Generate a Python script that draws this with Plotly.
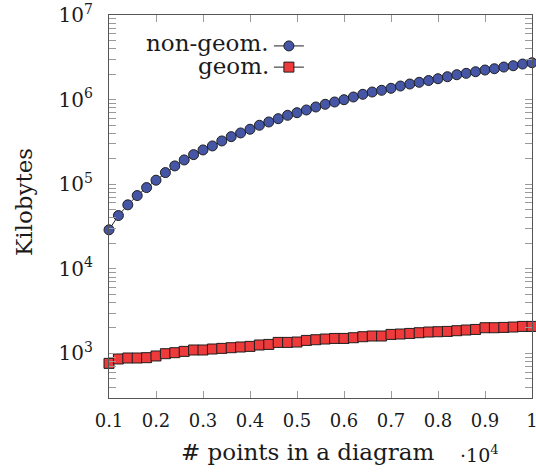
import plotly.graph_objects as go
import math

# x in units of 10^4 points
x_vals = [0.10, 0.12, 0.14, 0.16, 0.18, 0.20, 0.22, 0.24, 0.26, 0.28,
          0.30, 0.32, 0.34, 0.36, 0.38, 0.40, 0.42, 0.44, 0.46, 0.48,
          0.50, 0.52, 0.54, 0.56, 0.58, 0.60, 0.62, 0.64, 0.66, 0.68,
          0.70, 0.72, 0.74, 0.76, 0.78, 0.80, 0.82, 0.84, 0.86, 0.88,
          0.90, 0.92, 0.94, 0.96, 0.98, 1.00]

non_geom_kb = [28900, 42600, 57000, 73400, 91200, 111500, 137100, 164500, 193600, 223600,
               254100, 283300, 324500, 364800, 403400, 446100, 497300, 543900, 595100, 652500,
               700300, 753900, 817700, 879900, 937000, 997300, 1073000, 1155000, 1229000, 1288000,
               1360000, 1447000, 1528000, 1601000, 1681000, 1765000, 1864000, 1968000, 2044000, 2135000,
               2236000, 2316000, 2426000, 2513000, 2633000, 2728000]

geom_kb = [762, 859, 882, 882, 890, 932, 992, 1019, 1056, 1097,
           1097, 1127, 1146, 1168, 1190, 1210, 1257, 1277, 1349, 1349,
           1363, 1424, 1451, 1479, 1503, 1503, 1532, 1575, 1605, 1605,
           1676, 1694, 1722, 1755, 1789, 1804, 1819, 1854, 1889, 1920,
           2011, 2011, 2028, 2050, 2084, 2084]

x_tick_vals = [0.1, 0.2, 0.3, 0.4, 0.5, 0.6, 0.7, 0.8, 0.9, 1.0]
x_tick_text = ["0.1", "0.2", "0.3", "0.4", "0.5", "0.6", "0.7", "0.8", "0.9", "1"]
y_tick_vals = [1e3, 1e4, 1e5, 1e6, 1e7]
y_tick_text = ["10<sup>3</sup>", "10<sup>4</sup>", "10<sup>5</sup>", "10<sup>6</sup>", "10<sup>7</sup>"]
y_minor_vals = [m * 10 ** d for d in range(2, 7) for m in range(2, 10)]

series_names = ["non-geom.", "geom."]

FONT = "DejaVu Serif"
TXT = "#1a1a1a"
BLUE = "#4656a6"
RED = "#ee3a3a"
EDGE = "#1f1f1f"

fig = go.Figure()
fig.add_trace(go.Scatter(
    x=x_vals, y=non_geom_kb, mode="lines+markers", name=" ",
    line=dict(color="#222222", width=1),
    marker=dict(symbol="circle", size=10, color=BLUE, line=dict(color=EDGE, width=1)),
    cliponaxis=False,
))
fig.add_trace(go.Scatter(
    x=x_vals, y=geom_kb, mode="lines+markers", name="  ",
    line=dict(color="#222222", width=1),
    marker=dict(symbol="square", size=10, color=RED, line=dict(color=EDGE, width=1)),
    cliponaxis=False,
))

axis_common = dict(
    showline=True, linecolor="#555555", linewidth=1.3, mirror="allticks",
    ticks="inside", ticklen=7, tickcolor="#9a9a9a", tickwidth=1,
    showgrid=False, zeroline=False, automargin=False, ticklabeloverflow="allow",
)

fig.update_layout(
    width=536, height=473,
    margin=dict(l=109, r=4, t=15, b=75, autoexpand=False),
    paper_bgcolor="white", plot_bgcolor="white",
    xaxis=dict(range=[0.1, 1.0], tickvals=x_tick_vals, ticktext=x_tick_text,
               ticklabelstandoff=6, tickfont=dict(family=FONT, size=18, color=TXT),
               **axis_common),
    yaxis=dict(type="log", range=[math.log10(297), 7], tickvals=y_tick_vals, ticktext=y_tick_text,
               ticklabelstandoff=11, tickfont=dict(family=FONT, size=20, color=TXT),
               minor=dict(tickvals=y_minor_vals, ticks="inside", ticklen=7, tickcolor="#9a9a9a", tickwidth=1),
               **axis_common),
    showlegend=True,
    legend=dict(x=0.378, y=0.96, xanchor="left", yanchor="top",
                bgcolor="rgba(0,0,0,0)", borderwidth=0, tracegroupgap=0,
                font=dict(family=FONT, size=14, color=TXT)),
    annotations=[
        dict(text=series_names[0], xref="paper", yref="paper", x=0.383, y=0.926,
             xanchor="right", yanchor="middle", showarrow=False,
             font=dict(family=FONT, size=23, color=TXT)),
        dict(text=series_names[1], xref="paper", yref="paper", x=0.383, y=0.866,
             xanchor="right", yanchor="middle", showarrow=False,
             font=dict(family=FONT, size=23, color=TXT)),
        dict(text="# points in a diagram", xref="paper", yref="paper", x=(307 - 109) / 423, y=-0.14,
             xanchor="center", yanchor="middle", showarrow=False,
             font=dict(family=FONT, size=23, color=TXT)),
        dict(text="·10<sup>4</sup>", xref="paper", yref="paper", x=(458 - 109) / 423, y=-0.147,
             xanchor="left", yanchor="middle", showarrow=False,
             font=dict(family=FONT, size=19, color=TXT)),
        dict(text="Kilobytes", xref="paper", yref="paper", x=(24 - 109) / 423, y=(398 - 202) / 383,
             xanchor="center", yanchor="middle", textangle=-90, showarrow=False,
             font=dict(family=FONT, size=23, color=TXT)),
    ],
)

fig.write_html("out.html", config={"displayModeBar": False},
               post_script="document.body.style.margin='0';document.body.style.overflow='hidden';")
